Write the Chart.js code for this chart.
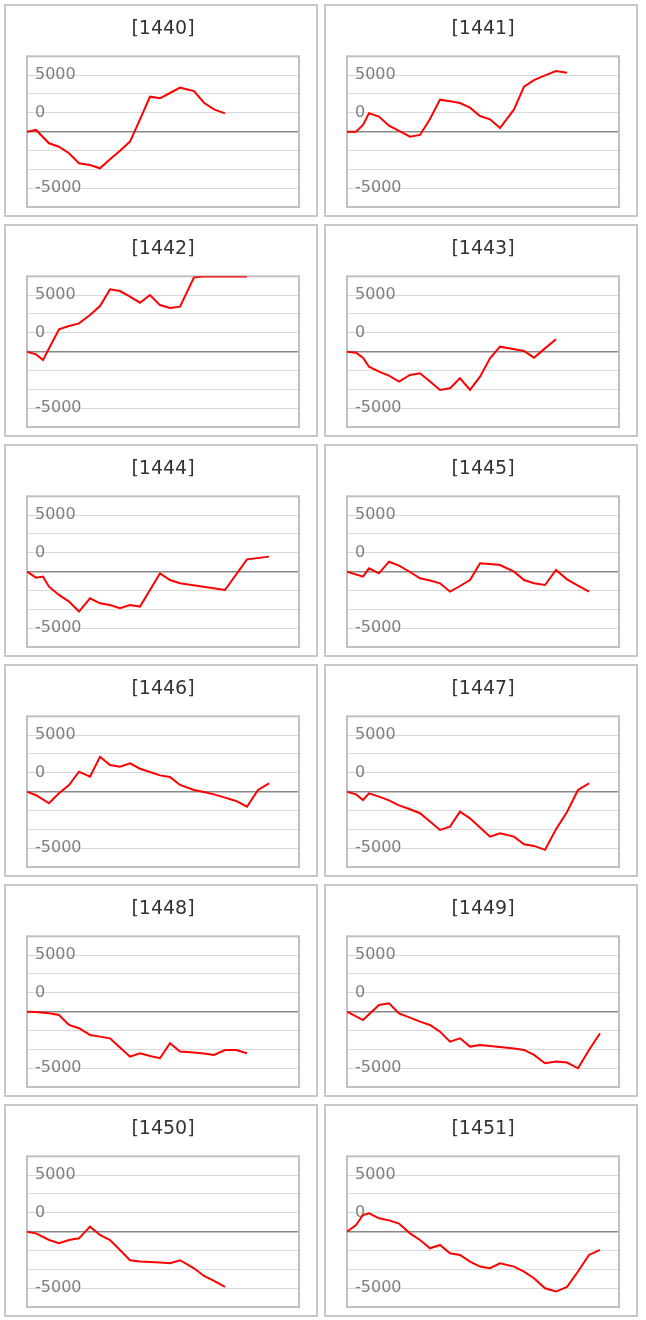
<!DOCTYPE html>
<html>
<head>
<meta charset="utf-8">
<script src="https://cdn.jsdelivr.net/npm/chart.js@4.4.1/dist/chart.umd.min.js"></script>
<style>
body { margin: 0; background: #fff; }
.panel { position: absolute; width: 314px; height: 213px; box-sizing: border-box; border: 2px solid #c8c8c8; background: #fff; }
.panel canvas { display: block; }
</style>
</head>
<body>
<div id="wrap"></div>
<script>
// positions of the sample slots on the shared time axis
var slotX = [0, 0.9, 1.6, 2.2, 3.2, 4.2, 5.2, 6.3, 7.3, 8.3, 9.3, 10.3, 11.3, 12.3, 13.3, 14.3, 15.3, 16.7, 17.7, 18.7, 19.8, 20.9, 22, 23.1, 24.2, 25.3];
var xMax = 27.2;

var titles = ["[1440]", "[1441]", "[1442]", "[1443]", "[1444]", "[1445]", "[1446]", "[1447]", "[1448]", "[1449]", "[1450]", "[1451]"];

// one value per slot, null = no sample
var pnl1440 = [0, 150, null, -1030, -1330, -1910, -2800, -2950, -3240, -2440, -1680, -880, 1090, 3090, 2950, 3420, 3890, 3590, 2560, 1970, 1620, null, null, null, null, null];
var pnl1441 = [0, 0, 590, 1620, 1330, 530, 60, -440, -290, 1120, 2830, 2680, 2530, 2120, 1380, 1090, 320, 1970, 3980, 4560, 4980, 5360, 5210, null, null, null];
var pnl1442 = [0, -240, -740, null, 1970, 2270, 2500, 3240, 4030, 5510, 5360, 4860, 4330, 5010, 4120, 3860, 3980, 6570, 6660, 6660, 6660, 6660, 6660, null, null, null];
var pnl1443 = [0, -90, -530, -1330, -1770, -2120, -2650, -2060, -1910, -2650, -3390, -3240, -2360, -3390, -2210, -590, 440, null, 60, -530, 290, 1090, null, null, null, null];
var pnl1444 = [0, -530, -440, -1330, -2060, -2650, -3530, -2360, -2800, -2950, -3240, -2950, -3090, -1620, -150, -740, -1030, null, null, null, -1620, null, 1090, null, 1330, null];
var pnl1445 = [0, null, -440, 290, -150, 880, 530, -30, -590, -790, -1030, -1770, -1270, -740, 740, 680, 590, 0, -740, -1030, -1180, 150, -680, -1240, -1770, null];
var pnl1446 = [0, -320, null, -1030, -150, 590, 1770, 1330, 3090, 2360, 2210, 2500, 2030, 1740, 1440, 1300, 590, 150, -30, -240, -530, -820, -1330, 150, 740, null];
var pnl1447 = [0, -240, -740, -150, -440, -770, -1210, -1560, -1910, -2650, -3390, -3090, -1770, -2360, -3180, -3980, -3680, -3980, -4650, -4800, -5150, -3330, -1800, 150, 740, null];
var pnl1448 = [0, -30, null, -150, -290, -1180, -1470, -2060, -2210, -2360, -3180, -3980, -3680, -3920, -4120, -2800, -3530, -3620, -3710, -3830, -3390, -3390, -3680, null, null, null];
var pnl1449 = [0, null, -740, null, 590, 740, -150, -530, -880, -1180, -1770, -2650, -2360, -3090, -2950, -3030, -3120, -3270, -3390, -3830, -4560, -4420, -4500, -5010, -3390, -1910];
var pnl1450 = [0, -150, null, -740, -1030, -740, -590, 440, -290, -740, -1620, -2530, -2650, -2680, -2740, -2800, -2530, -3240, -3920, -4360, -4890, null, null, null, null, null];
var pnl1451 = [0, 590, 1470, 1620, 1180, 1000, 710, -150, -740, -1470, -1180, -1910, -2060, -2650, -3090, -3240, -2800, -3090, -3530, -4120, -5010, -5300, -4890, -3530, -2060, -1620];

var series = [pnl1440, pnl1441, pnl1442, pnl1443, pnl1444, pnl1445, pnl1446, pnl1447, pnl1448, pnl1449, pnl1450, pnl1451];

// y gridlines and the labels shown next to them
var yTickValues = [-20000/3, -5000, -10000/3, -5000/3, 0, 5000/3, 10000/3, 5000, 20000/3];
var yTickText = ["", "-5000", "", "", "", "0", "", "5000", ""];
var yMin = -20000/3, yMax = 20000/3;

// grey box round the plot area
var framePlugin = {
  id: 'frame',
  beforeDatasetsDraw: function(chart) {
    var a = chart.chartArea, ctx = chart.ctx;
    ctx.save();
    ctx.strokeStyle = '#c0c0c0';
    ctx.lineWidth = 2;
    ctx.strokeRect(a.left, a.top, a.right - a.left, a.bottom - a.top);
    ctx.restore();
  }
};

var wrap = document.getElementById('wrap');

series.forEach(function(vals, i) {
  var col = i % 2, row = Math.floor(i / 2);
  var div = document.createElement('div');
  div.className = 'panel';
  div.style.left = (4 + col * 319.5) + 'px';
  div.style.top = (4 + row * 220) + 'px';
  var cv = document.createElement('canvas');
  cv.width = 310;
  cv.height = 209;
  div.appendChild(cv);
  wrap.appendChild(div);

  var pts = [];
  vals.forEach(function(v, k) {
    if (v !== null) pts.push({ x: slotX[k], y: v });
  });

  new Chart(cv, {
    type: 'line',
    data: {
      datasets: [{
        data: pts,
        borderColor: '#ff0000',
        borderWidth: 2,
        pointRadius: 0,
        tension: 0,
        fill: false
      }]
    },
    options: {
      responsive: false,
      animation: false,
      devicePixelRatio: 1,
      layout: { padding: { left: 21, right: 17, top: 0, bottom: 8 } },
      plugins: {
        legend: { display: false },
        tooltip: { enabled: false },
        title: {
          display: true,
          text: titles[i],
          color: '#333333',
          font: { family: 'DejaVu Sans', size: 19, weight: 'normal' },
          padding: { top: 12, bottom: 15.5 }
        }
      },
      scales: {
        x: { type: 'linear', min: 0, max: xMax, display: false },
        y: {
          min: yMin,
          max: yMax,
          afterBuildTicks: function(scale) {
            scale.ticks = yTickValues.map(function(v) { return { value: v }; });
          },
          afterFit: function(scale) {
            // labels sit inside the plot, so the axis takes no room
            scale.width = 0;
            scale.paddingTop = 0;
            scale.paddingBottom = 0;
          },
          border: { display: false },
          grid: {
            drawTicks: false,
            color: function(c) {
              var v = c.tick.value;
              if (Math.abs(v) < 1) return '#888888';
              if (Math.abs(Math.abs(v) - yMax) < 1) return 'rgba(0,0,0,0)';
              return '#d9d9d9';
            },
            lineWidth: function(c) { return Math.abs(c.tick.value) < 1 ? 1.5 : 1; },
            borderDash: function(c) { return Math.abs(c.tick.value) < 1 ? [] : [3, 2]; }
          },
          ticks: {
            autoSkip: false,
            mirror: true,
            padding: 8,
            color: '#7f7f7f',
            font: { family: 'DejaVu Sans', size: 16 },
            callback: function(v, idx) { return yTickText[idx]; }
          }
        }
      }
    },
    plugins: [framePlugin]
  });
});
</script>
</body>
</html>
